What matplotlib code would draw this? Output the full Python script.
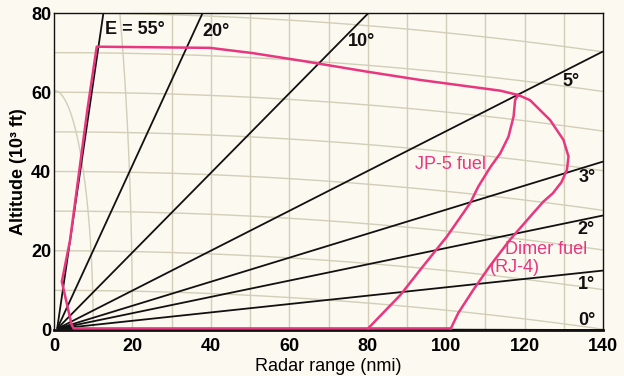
import numpy as np
import matplotlib
matplotlib.use('Agg')
import matplotlib.pyplot as plt

plt.rcParams['font.family'] = ['Liberation Sans', 'DejaVu Sans']

BG = '#fbf9f0'
GRID = '#d2ceb8'
PINK = '#e8367f'

# elevation rays: label, and where each ray leaves the frame (nmi, 10^3 ft)
ray_labels = ['0°', '1°', '2°', '3°', '5°', '10°', '20°', 'E = 55°']
ray_end_range = [140, 140, 140, 140, 140, 80.2, 37.9, 12.6]
ray_end_alt = [0, 15.0, 28.9, 42.5, 70.3, 80, 80, 80]
ray_label_x = [133.7, 133.7, 133.4, 133.7, 129.6, 75.0, 37.8, 13.0]
ray_label_y = [2.5, 11.4, 25.3, 38.6, 62.6, 72.7, 75.3, 75.8]

# shared ceiling / low-angle boundary of the envelopes
upper_range = [101.2, 5.0, 4.5, 2.0, 4.1, 8.5, 10.9, 39.8, 50.5, 62.8, 79.8, 93.4, 113.8, 118.4]
upper_alt = [0.4, 0.4, 1.3, 12.2, 22.7, 55.5, 71.5, 71.2, 69.9, 68.0, 65.2, 63.1, 60.4, 59.3]

# JP-5 fuel max range boundary
jp5_range = [118.4, 117.6, 117.2, 115.9, 113.8, 111.2, 108.2, 106.1, 100.2, 93.4, 88.3, 80.1]
jp5_alt = [59.3, 58.1, 53.9, 48.8, 44.6, 41.0, 36.2, 32.0, 23.6, 15.2, 8.8, 0.4]

# Dimer fuel (RJ-4) max range boundary
rj4_range = [118.4, 121.4, 126.5, 129.9, 131.2, 130.8, 129.4, 127.2, 124.8, 122.2, 116.3, 111.2, 106.9, 103.1, 101.2]
rj4_alt = [59.3, 58.0, 53.0, 48.0, 43.8, 40.4, 37.3, 34.5, 32.4, 29.5, 22.8, 16.2, 10.1, 4.3, 0.4]

# chart grid
alt_levels = [10, 20, 30, 40, 50, 60, 70, 80]
range_levels = [10, 20, 30, 40, 50, 60, 70, 80, 90, 100, 110, 120, 130]
arc_top = {10: 60.5, 20: 147.0}   # near ranges bend toward the axis
CURV = 0.0005                      # earth curvature drop of altitude lines

fig = plt.figure(figsize=(6.24, 3.76), dpi=100, facecolor=BG)
ax = fig.add_axes([54 / 624, 46 / 376, 549 / 624, 317 / 376])
ax.set_facecolor(BG)
ax.set_xlim(0, 140)
ax.set_ylim(0, 80)

xs = np.linspace(0, 140, 300)
for h in alt_levels:
    ax.plot(xs, h - CURV * xs ** 2, color=GRID, lw=1.0, zorder=1)

for r in range_levels:
    if r in arc_top:
        hh = np.linspace(0, min(arc_top[r], 80), 200)
        ax.plot(r * np.sqrt(np.clip(1 - (hh / arc_top[r]) ** 2, 0, 1)), hh,
                color=GRID, lw=1.0, zorder=1)
    else:
        ax.plot([r, r], [0, 80], color=GRID, lw=1.0, zorder=1)

# rays
for lab, xe, ye, lx, ly in zip(ray_labels, ray_end_range, ray_end_alt, ray_label_x, ray_label_y):
    ax.plot([0.8, xe], [0.3, ye], color='#111111', lw=1.3, zorder=3,
            solid_capstyle='butt')
    ax.text(lx, ly, lab, fontsize=13, fontweight='bold', color='#111111',
            ha='left', va='center', zorder=5)

# envelopes
ax.plot(upper_range, upper_alt, color=PINK, lw=1.8, zorder=4, solid_joinstyle='round')
ax.plot(jp5_range, jp5_alt, color=PINK, lw=1.8, zorder=4)
ax.plot(rj4_range, rj4_alt, color=PINK, lw=1.8, zorder=4)

ax.text(92.1, 41.7, 'JP-5 fuel', fontsize=13, color=PINK, ha='left', va='center', zorder=5)
ax.text(115.1, 20.2, 'Dimer fuel', fontsize=13, color=PINK, ha='left', va='center', zorder=5)
ax.text(111.2, 15.7, '(RJ-4)', fontsize=13, color=PINK, ha='left', va='center', zorder=5)

ax.set_xticks(range(0, 141, 20))
ax.set_yticks(range(0, 81, 20))
ax.tick_params(length=0, labelsize=13)
ax.tick_params(axis='x', pad=6)
ax.tick_params(axis='y', pad=2)
for t in ax.get_xticklabels() + ax.get_yticklabels():
    t.set_fontweight('bold')

ax.set_xlabel('Radar range (nmi)', fontsize=13, labelpad=2)
ax.set_ylabel('Altitude (10³ ft)', fontsize=13, fontweight='bold', labelpad=3)

for s in ax.spines.values():
    s.set_color('#111111')
    s.set_linewidth(1.0)
ax.spines['bottom'].set_linewidth(2.0)

fig.savefig('out.png', dpi=100, facecolor=BG)
